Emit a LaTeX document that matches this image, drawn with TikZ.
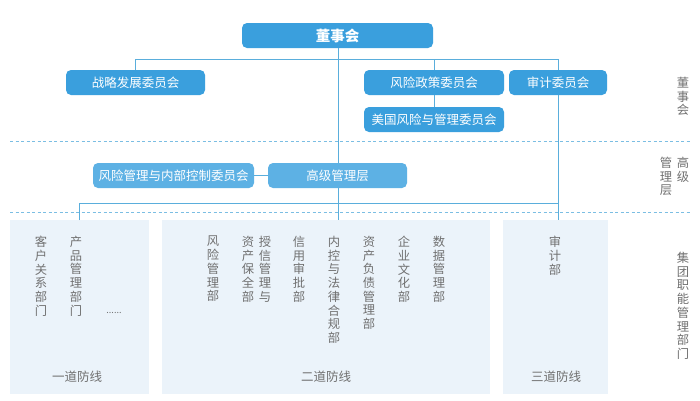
\documentclass[tikz,border=0pt]{standalone}
\usepackage{fontspec}
\setmainfont{Noto Sans CJK SC}
\definecolor{topblue}{HTML}{3A9FDD}
\definecolor{midblue}{HTML}{5DB1E4}
\definecolor{linkblue}{HTML}{5AAEDC}
\definecolor{panel}{HTML}{EBF3FA}
\definecolor{gtext}{HTML}{707070}
\begin{document}
\begin{tikzpicture}[x=1pt,y=-1pt,
  boxa/.style={fill=topblue,rounded corners=5pt,text=white,font=\fontsize{12.5}{12.5}\selectfont,inner sep=0pt},
  boxb/.style={fill=midblue,rounded corners=5pt,text=white,font=\fontsize{12.5}{12.5}\selectfont,inner sep=0pt},
  link/.style={draw=linkblue,line width=1pt},
  sep/.style={draw=linkblue!80,dashed,dash pattern=on 3pt off 2.5pt,line width=0.8pt},
  panelbox/.style={fill=panel,draw=none},
  vcol/.style={text=gtext,font=\fontsize{12.3}{13.7}\selectfont,align=center,anchor=north,inner sep=0pt,text width=14pt},
  lbl/.style={text=gtext,font=\fontsize{12.5}{13}\selectfont,inner sep=0pt}
]
\useasboundingbox (0,0) rectangle (700,400);
\fill[white] (0,0) rectangle (700,400);

% separators
\draw[sep] (10,141) -- (690,141);
\draw[sep] (10,212) -- (690,212);

% panels
\fill[panelbox] (10,220) rectangle (149,394);
\fill[panelbox] (162,220) rectangle (490,394);
\fill[panelbox] (503,220) rectangle (608,394);
\coordinate (p1) at (79,220);
\coordinate (p2) at (338,220);
\coordinate (p3) at (558,220);

% nodes
\node[boxa,minimum width=191pt,minimum height=25pt,font=\fontsize{14.5}{14.5}\selectfont\bfseries] (board) at (337.5,35.5) {董事会};
\node[boxa,minimum width=139pt,minimum height=25pt] (zl) at (135.5,82.5) {战略发展委员会};
\node[boxa,minimum width=140pt,minimum height=25pt] (fx) at (434,82.5) {风险政策委员会};
\node[boxa,minimum width=98pt,minimum height=25pt] (sj) at (558,82.5) {审计委员会};
\node[boxa,minimum width=140pt,minimum height=25pt] (mg) at (434,119.5) {美国风险与管理委员会};
\node[boxb,minimum width=161pt,minimum height=25pt] (nk) at (173.5,175.5) {风险管理与内部控制委员会};
\node[boxb,minimum width=139pt,minimum height=25pt] (gj) at (337.5,175.5) {高级管理层};

% connectors
\coordinate (j1) at (338,59);
\draw[link] (board.south -| j1) -- (gj.north -| j1);
\draw[link] (zl.north) |- (sj.north |- j1) -- (sj.north);
\draw[link] (fx.north) -- (fx.north |- j1);
\draw[link] (fx.south) -- (mg.north);
\draw[link] (nk.east) -- (gj.west);
\draw[link] (gj.south -| p2) -- (p2);
\draw[link] (p1) |- (558,203);
\draw[link] (sj.south) -- (p3);

% columns
\node[vcol] (c1) at (41,236) {客\\户\\关\\系\\部\\门};
\node[vcol] (c2) at (76,236) {产\\品\\管\\理\\部\\门};
\node[lbl,font=\fontsize{9}{9}\selectfont] (c3) at (114,313) {......};
\node[vcol] (d1) at (213,236) {风\\险\\管\\理\\部};
\node[vcol] (d2) at (248,236) {资\\产\\保\\全\\部};
\node[vcol] (d3) at (265,236) {授\\信\\管\\理\\与};
\node[vcol] (d4) at (299,236) {信\\用\\审\\批\\部};
\node[vcol] (d5) at (334,236) {内\\控\\与\\法\\律\\合\\规\\部};
\node[vcol] (d6) at (369,236) {资\\产\\负\\债\\管\\理\\部};
\node[vcol] (d7) at (404,236) {企\\业\\文\\化\\部};
\node[vcol] (d8) at (439,236) {数\\据\\管\\理\\部};
\node[vcol] (e1) at (555,236) {审\\计\\部};

\node[lbl] (l1) at (77,377) {一道防线};
\node[lbl] (l2) at (326,377) {二道防线};
\node[lbl] (l3) at (556,377) {三道防线};

% right labels
\node[vcol] (r1) at (683,77) {董\\事\\会};
\node[vcol] (r2) at (683,157) {高\\级};
\node[vcol] (r3) at (666,157) {管\\理\\层};
\node[vcol] (r4) at (683,252) {集\\团\\职\\能\\管\\理\\部\\门};
\end{tikzpicture}
\end{document}
